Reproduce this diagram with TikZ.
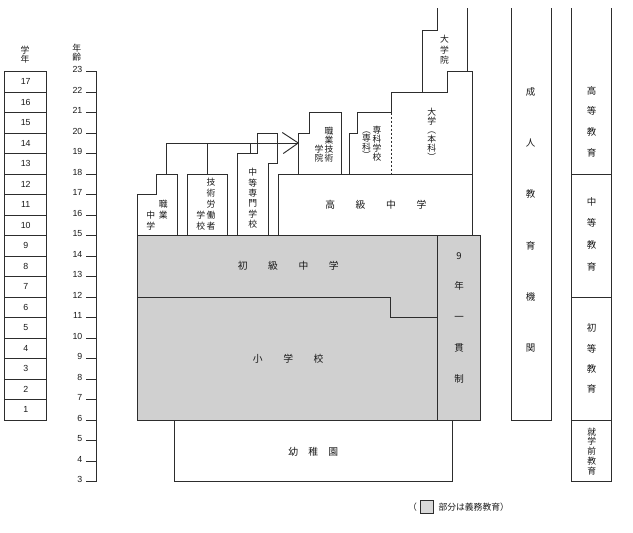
\documentclass[tikz,border=0pt]{standalone}
\usepackage{fontspec}
\setmainfont{Liberation Sans}
\newfontfamily\jp{Noto Sans CJK JP}
\definecolor{shade}{RGB}{208,208,208}
\definecolor{lc}{RGB}{45,45,45}
\definecolor{tc}{RGB}{25,25,25}
\tikzset{
  ln/.style={line width=0.95pt, draw=lc, line join=miter},
  jv/.style={font=\jp\fontsize{9.5}{#1}\selectfont, align=center, inner sep=0pt, text=tc},
  jvs/.style={font=\jp\fontsize{8.8}{#1}\selectfont, align=center, inner sep=0pt, text=tc},
  jh/.style={font=\jp\fontsize{9.8}{11}\selectfont, inner sep=0pt, text=tc},
  num/.style={font=\fontsize{8.8}{10}\selectfont, inner sep=0pt, text=tc},
}
\begin{document}
\begin{tikzpicture}[x=1pt,y=-1pt]
\useasboundingbox (0,0) rectangle (633,533);
\fill[white] (0,0) rectangle (633,533);

% ---- grade column ----
\node[jvs=9] (hgrade) at (25,54.5) {学\\年};
\foreach \g in {1,...,17} {
  \pgfmathsetmacro{\yt}{71.7+(23-(\g+6))*20.5}
  \draw[ln] (4.7,\yt) rectangle (46.7,{\yt+20.5});
  \node[num] (g\g) at (25.7,{\yt+10.25}) {\g};
}

% ---- age axis ----
\node[jvs=8.4] (hage) at (76.7,52.5) {年\\齢};
\coordinate (axT) at (96.7,71.7);
\coordinate (axB) at (96.7,481.7);
\draw[ln] (axT) -- (axB);
\foreach \a in {3,...,23} {
  \pgfmathsetmacro{\yy}{71.7+(23-\a)*20.5}
  \draw[ln] (86,\yy) -- (96.7,\yy);
  \node[num,anchor=east] (a\a) at (82.5,{\yy-2}) {\a};
}

% ---- compulsory (shaded) block ----
\filldraw[ln, fill=shade] (137.3,235.7) rectangle (480.7,420.2);
\draw[ln] (437.3,235.7) -- (437.3,420.2);
\draw[ln] (137.3,297.2) -- (390,297.2) -- (390,317.7) -- (437.3,317.7);

% ---- kindergarten ----
\draw[ln] (174.3,420.2) rectangle (452.7,481.7);

% ---- upper boxes ----
% 職業中学
\draw[ln] (137.3,235.7) -- (137.3,194.7) -- (156.7,194.7) -- (156.7,174.2) -- (177.3,174.2) -- (177.3,235.7);
% 技術労働者学校
\draw[ln] (187.7,235.7) -- (187.7,174.2) -- (227.7,174.2) -- (227.7,235.7);
% 中等専門学校
\draw[ln] (237.7,235.7) -- (237.7,153.7) -- (257.3,153.7) -- (257.3,133.2) -- (277.3,133.2) -- (277.3,163.9) -- (268.3,163.9) -- (268.3,235.7);
% 高級中学
\draw[ln] (278.3,235.7) -- (278.3,174.2) -- (472.7,174.2);
% 職業技術学院
\draw[ln] (298.3,174.2) -- (298.3,133.2) -- (309,133.2) -- (309,112.7) -- (341,112.7) -- (341,174.2);
% 専科学校 / 大学
\draw[ln] (349,174.2) -- (349,133.2) -- (357.3,133.2) -- (357.3,112.7) -- (391.7,112.7) -- (391.7,92.2) -- (447.7,92.2) -- (447.7,71.7) -- (472.7,71.7) -- (472.7,235.7);
\draw[line width=0.95pt, draw=lc, dash pattern=on 2pt off 2pt] (391.7,112.7) -- (391.7,174.2);
% 大学院
\draw[ln] (422.3,92.2) -- (422.3,30.7) -- (437.3,30.7) -- (437.3,8.3);
\draw[ln] (467.3,8.3) -- (467.3,71.7);

% ---- connectors to 職業技術学院 ----
\coordinate (tip) at (298.3,143);
\coordinate (c1) at (166.7,174.2);
\coordinate (c1t) at (166.7,143);
\coordinate (c2) at (207.3,174.2);
\coordinate (c2t) at (207.3,143);
\coordinate (c3) at (250.7,153.7);
\coordinate (c3t) at (250.7,143);
\coordinate (hu) at (282.3,132.5);
\coordinate (hd) at (283.3,153.5);
\draw[ln] (c1) -- (c1t) -- (tip);
\draw[ln] (c2) -- (c2t);
\draw[ln] (c3) -- (c3t);
\draw[ln] (hu) -- (tip) -- (hd);

% ---- right columns ----
\draw[ln] (511,8.3) -- (511,420.2) -- (551,420.2) -- (551,8.3);
\draw[ln] (571.7,8.3) -- (571.7,481.7) -- (611.7,481.7) -- (611.7,8.3);
\draw[ln] (571.7,174.2) -- (611.7,174.2);
\draw[ln] (571.7,297.2) -- (611.7,297.2);
\draw[ln] (571.7,420.2) -- (611.7,420.2);

% ---- texts ----
\node[jh] (tjh) at (288.3,265.7) {初\hspace{20.6pt}級\hspace{20.6pt}中\hspace{20.6pt}学};
\node[jh] (tps) at (288.2,359) {小\hspace{20.6pt}学\hspace{20.6pt}校};
\node[jh] (tkg) at (313.3,451.7) {幼\hspace{10.2pt}稚\hspace{10.2pt}園};
\node[jh] (tsh) at (375.8,204.3) {高\hspace{20.6pt}級\hspace{20.6pt}中\hspace{20.6pt}学};
\node[jv=30.8] (t9y) at (459,317.7) {9\\年\\一\\貫\\制};

\node[jvs=11] (tvm1) at (163.3,209.2) {職\\業};
\node[jvs=11] (tvm2) at (150.7,220.2) {中\\学};
\node[jvs=11] (ttw1) at (211,203.7) {技\\術\\労\\働\\者};
\node[jvs=11] (ttw2) at (200.7,220.2) {学\\校};
\node[jvs=10.3] (tss) at (252.7,198.3) {中\\等\\専\\門\\学\\校};
\node[jvs=9] (tvc1) at (329,144.5) {職\\業\\技\\術};
\node[jvs=9] (tvc2) at (319,153.5) {学\\院};
\node[jvs=9] (tjc1) at (377,143.5) {専\\科\\学\\校};
\node[jvs=8.5] (tjc2) at (366.5,145) {︵\\専\\科\\︶};
\node[jvs=9] (tun) at (431.7,134.2) {大\\学\\︵\\本\\科\\︶};
\node[jvs=10.3] (tgs) at (444.5,49.7) {大\\学\\院};

\node[jv=51.3] (tadult) at (530.5,220) {成\\人\\教\\育\\機\\関};
\node[jv=20.7] (the) at (591.7,121.7) {高\\等\\教\\育};
\node[jv=21.7] (tse) at (591.7,234.2) {中\\等\\教\\育};
\node[jv=20.3] (tpe) at (591.7,358.8) {初\\等\\教\\育};
\node[jvs=9.75] (tpre) at (591.7,451.2) {就\\学\\前\\教\\育};

% ---- legend ----
\node[jvs=9, anchor=east] (lgo) at (417,506.7) {（};
\filldraw[line width=0.6pt, draw=lc, fill=shade!80!white] (420.5,500.3) rectangle (433.5,513);
\node[jvs=9, anchor=west] (lgt) at (438.3,506.7) {部分は義務教育）};
\end{tikzpicture}
\end{document}
